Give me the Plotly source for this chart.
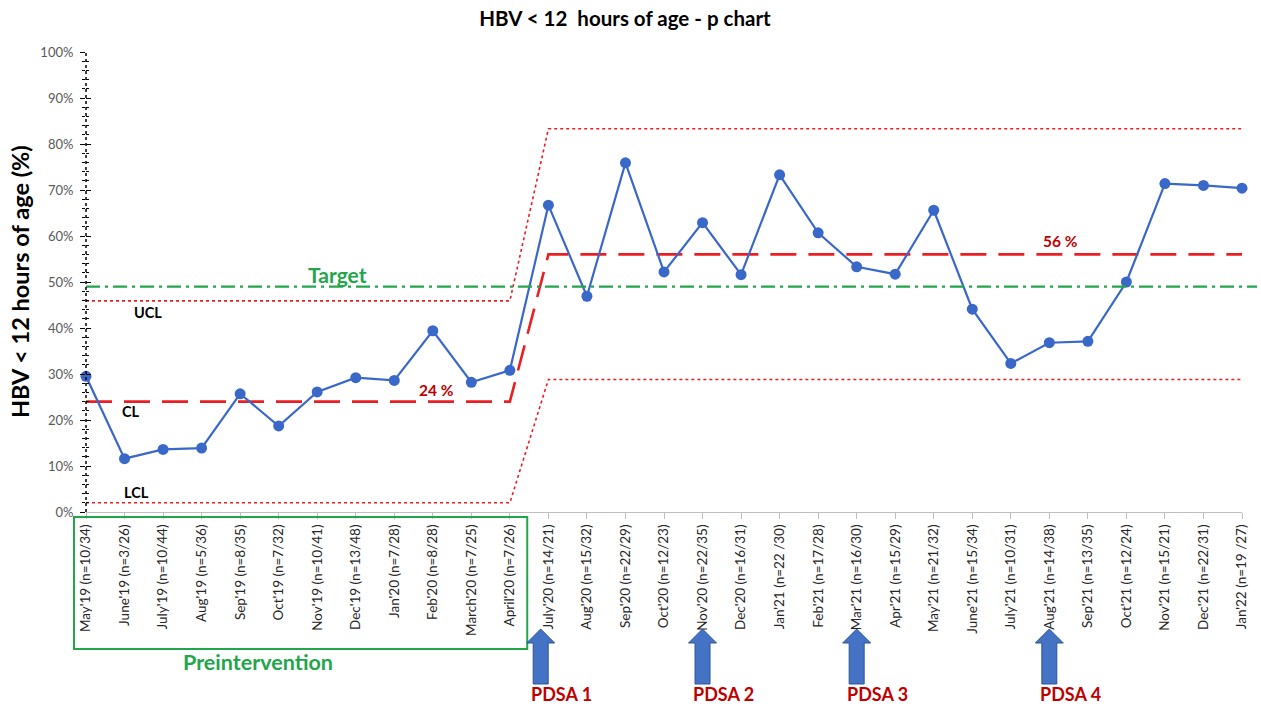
import plotly.graph_objects as go

months = ["May'19 (n=10/34)", "June'19 (n=3/26)", "July'19 (n=10/44)", "Aug'19 (n=5/36)",
          "Sep'19 (n=8/35)", "Oct'19 (n=7/32)", "Nov'19 (n=10/41)", "Dec'19 (n=13/48)",
          "Jan'20 (n=7/28)", "Feb'20 (n=8/28)", "March'20 (n=7/25)", "April'20 (n=7/26)",
          "July'20 (n=14/21)", "Aug'20 (n=15/32)", "Sep'20 (n=22/29)", "Oct'20 (n=12/23)",
          "Nov'20 (n=22/35)", "Dec'20 (n=16/31)", "Jan'21 (n=22 /30)", "Feb'21 (n=17/28)",
          "Mar'21 (n=16/30)", "Apr'21 (n=15/29)", "May'21 (n=21/32)", "June'21 (n=15/34)",
          "July'21 (n=10/31)", "Aug'21 (n=14/38)", "Sep'21 (n=13/35)", "Oct'21 (n=12/24)",
          "Nov'21 (n=15/21)", "Dec'21 (n=22/31)", "Jan'22 (n=19 /27)"]

pct = [29.5, 11.6, 13.6, 13.9, 25.7, 18.7, 26.1, 29.2, 28.6, 39.4, 28.2, 30.8,
       66.7, 46.9, 75.9, 52.2, 62.9, 51.6, 73.3, 60.7, 53.3, 51.7, 65.6, 44.1,
       32.3, 36.8, 37.1, 50.0, 71.4, 71.0, 70.4]

n_pre = 12
cl_pre, cl_post = 24.0, 56.0
ucl_pre, ucl_post = 45.9, 83.3
lcl_pre, lcl_post = 2.0, 28.8
target = 49.0

pdsa_labels = ["PDSA 1", "PDSA 2", "PDSA 3", "PDSA 4"]
pdsa_pos = [11.8, 16.0, 20.0, 25.0]

n = len(months)
xs = list(range(n))
n_post = n - n_pre
cl = [cl_pre] * n_pre + [cl_post] * n_post
ucl = [ucl_pre] * n_pre + [ucl_post] * n_post
lcl = [lcl_pre] * n_pre + [lcl_post] * n_post

FONT = "Lato"
RED = "rgb(235,30,35)"
DARKRED = "rgb(192,0,0)"
GREEN = "rgb(34,165,75)"
BLUE = "#3A68C8"

fig = go.Figure()
fig.add_trace(go.Scatter(x=xs, y=ucl, mode="lines", line=dict(color=RED, width=1.6, dash="dot"),
                         cliponaxis=False, hoverinfo="skip"))
fig.add_trace(go.Scatter(x=xs, y=lcl, mode="lines", line=dict(color=RED, width=1.6, dash="dot"),
                         cliponaxis=False, hoverinfo="skip"))
fig.add_trace(go.Scatter(x=xs, y=cl, mode="lines", line=dict(color=RED, width=2.6, dash="26px,12px"),
                         cliponaxis=False, hoverinfo="skip"))
fig.add_trace(go.Scatter(x=xs, y=pct, mode="lines+markers", line=dict(color=BLUE, width=2.2),
                         marker=dict(color=BLUE, size=11), cliponaxis=False))
# invisible trace to carry the overlay axis (cross-shaped y ticks)
fig.add_trace(go.Scatter(x=[0], y=[0], yaxis="y2", mode="markers", marker=dict(opacity=0),
                         hoverinfo="skip"))

shapes = []
# target line
shapes.append(dict(type="line", xref="paper", yref="y", x0=0, x1=1.013, y0=target, y1=target,
                   line=dict(color=GREEN, width=2.2, dash="14px,5px,3px,5px")))
# dotted y axis line
shapes.append(dict(type="line", xref="paper", yref="paper", x0=0, x1=0, y0=0, y1=1,
                   line=dict(color="black", width=1.5, dash="dot")))
# preintervention box
shapes.append(dict(type="rect", xref="paper", yref="paper", x0=-0.0104, x1=0.3817,
                   y0=-0.011, y1=-0.298,
                   line=dict(color=GREEN, width=2), fillcolor="rgba(0,0,0,0)"))
# PDSA arrows
arrow_path = "M -7.5,-172 L 7.5,-172 L 7.5,-131 L 14,-131 L 0,-117 L -14,-131 L -7.5,-131 Z"
for p in pdsa_pos:
    shapes.append(dict(type="path", xref="x", yref="paper", xsizemode="pixel", ysizemode="pixel",
                       xanchor=p, yanchor=0, path=arrow_path, fillcolor="#4472C4",
                       line=dict(color="#2F5597", width=1)))

annotations = []
def ann(text, x, y, size, color, xref="x", yref="y", **kw):
    annotations.append(dict(text=text, x=x, y=y, xref=xref, yref=yref, showarrow=False,
                            xanchor="center", yanchor="middle",
                            font=dict(family=FONT, size=size, color=color), **kw))

ann("<b>Target</b>", 6.53, 51.7, 21, GREEN)
ann("<b>UCL</b>", 1.6, 43.4, 14.5, "black")
ann("<b>CL</b>", 1.17, 21.9, 14.5, "black")
ann("<b>LCL</b>", 1.32, 4.3, 14.5, "black")
ann("<b>24 %</b>", 9.09, 26.6, 15.5, DARKRED)
ann("<b>56 %</b>", 25.3, 58.9, 15.5, DARKRED)
ann("<b>Preintervention</b>", 4.46, -0.326, 21.5, GREEN, yref="paper")
for lab, p in zip(pdsa_labels, pdsa_pos):
    ann("<b>" + lab + "</b>", p, -0.396, 18, DARKRED, yref="paper", xshift=21)
ann("<b>HBV < 12 hours of age (%)</b>", -0.057, 0.5, 23.5, "black", xref="paper", yref="paper",
    textangle=-90)

fig.update_layout(
    width=1261, height=706,
    margin=dict(l=86, r=17, t=52, b=194),
    paper_bgcolor="white", plot_bgcolor="white",
    showlegend=False,
    font=dict(family=FONT, size=12, color="#404040"),
    title=dict(text="<b>HBV < 12  hours of age - p chart</b>", x=625 / 1261, xref="container",
               xanchor="center", y=0.973, yanchor="middle",
               font=dict(family=FONT, size=20.5, color="black")),
    xaxis=dict(range=[0, n - 1], tickmode="array", tickvals=xs, ticktext=months,
               tickangle=-90, showgrid=False, zeroline=False, showline=True,
               linecolor="#BFBFBF", linewidth=1.2, ticks="outside", ticklen=6,
               tickcolor="#BFBFBF", tickfont=dict(family=FONT, size=13.5, color="#262626")),
    yaxis=dict(range=[0, 100], dtick=10, ticksuffix="%", showgrid=False, zeroline=False,
               showline=False, ticks="outside", ticklen=5, tickcolor="black",
               ticklabelstandoff=4,
               tickfont=dict(family=FONT, size=13, color="#595959"),
               minor=dict(dtick=2, ticks="outside", ticklen=3, tickcolor="black")),
    yaxis2=dict(range=[0, 100], dtick=10, overlaying="y", side="left", showgrid=False,
                zeroline=False, showline=False, showticklabels=False, ticks="inside",
                ticklen=5, tickcolor="black",
                minor=dict(dtick=2, ticks="inside", ticklen=3, tickcolor="black")),
    shapes=shapes, annotations=annotations,
)

fig.write_html("out.html", config={"displayModeBar": False},
               post_script="document.body.style.margin='0';document.body.style.overflow='hidden';")
